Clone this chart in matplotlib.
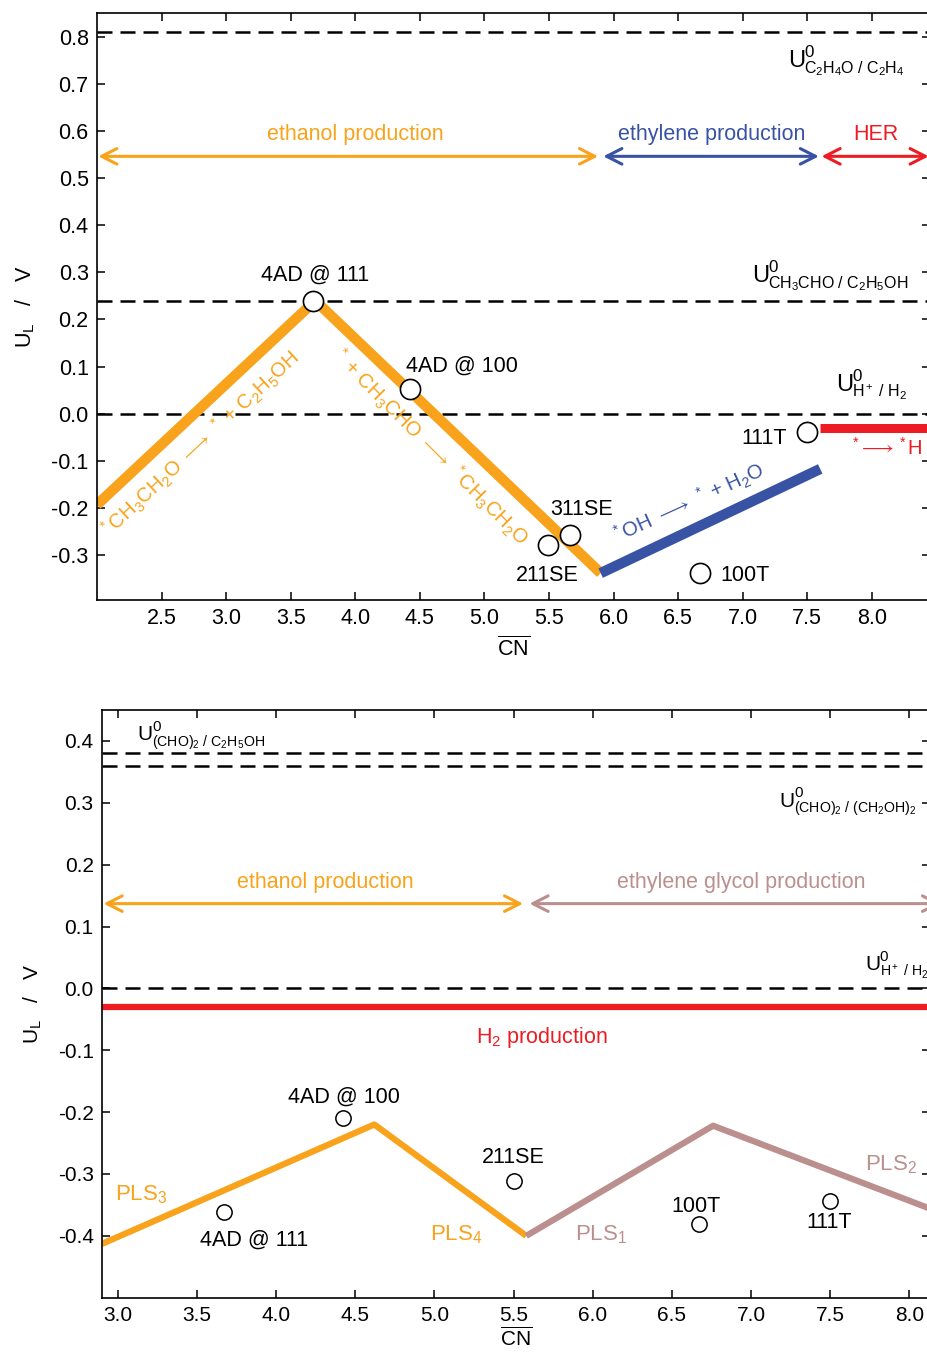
import numpy as np
import matplotlib
matplotlib.use("Agg")
import matplotlib.pyplot as plt

plt.rcParams['font.family'] = ['Liberation Sans', 'DejaVu Sans']
plt.rcParams['mathtext.fontset'] = 'custom'
plt.rcParams['mathtext.rm'] = 'Liberation Sans'
plt.rcParams['mathtext.it'] = 'Liberation Sans:italic'
plt.rcParams['mathtext.bf'] = 'Liberation Sans:bold'
plt.rcParams['axes.unicode_minus'] = False

orange = '#f8a31b'
blue = '#3953a4'
red = '#ed1c24'
mauve = '#bc8f8f'

# ---- top panel: limiting potential vs generalized coordination number
top_xlim = (2.0, 8.45)
top_ylim = (-0.395, 0.85)
top_yticks = [-0.3, -0.2, -0.1, 0.0, 0.1, 0.2, 0.3, 0.4, 0.5, 0.6, 0.7, 0.8]
top_xticks = [2.5, 3.0, 3.5, 4.0, 4.5, 5.0, 5.5, 6.0, 6.5, 7.0, 7.5, 8.0]
top_eq = [0.81, 0.24, 0.0]

ethanol_x = [2.0, 3.69, 5.9]
ethanol_y = [-0.193, 0.24, -0.338]
ethylene_x = [5.9, 7.6]
ethylene_y = [-0.338, -0.117]
her_x = [7.6, 8.45]
her_y = [-0.03, -0.03]

top_sites = ['4AD @ 111', '4AD @ 100', '211SE', '311SE', '100T', '111T']
top_cn = [3.67, 4.42, 5.495, 5.665, 6.67, 7.5]
top_ul = [0.24, 0.052, -0.278, -0.257, -0.337, -0.039]

# ---- bottom panel: glyoxal reduction
bot_xlim = (2.9, 8.13)
bot_ylim = (-0.5, 0.45)
bot_yticks = [-0.4, -0.3, -0.2, -0.1, 0.0, 0.1, 0.2, 0.3, 0.4]
bot_xticks = [3.0, 3.5, 4.0, 4.5, 5.0, 5.5, 6.0, 6.5, 7.0, 7.5, 8.0]
bot_eq = [0.38, 0.36, 0.0]
h2_level = -0.03

pls_eth_x = [2.9, 4.62, 5.58]
pls_eth_y = [-0.413, -0.22, -0.40]
pls_eg_x = [5.58, 6.76, 8.13]
pls_eg_y = [-0.40, -0.222, -0.356]

bot_sites = ['4AD @ 111', '4AD @ 100', '211SE', '100T', '111T']
bot_cn = [3.67, 4.42, 5.50, 6.67, 7.50]
bot_ul = [-0.362, -0.21, -0.312, -0.381, -0.343]

fig = plt.figure(figsize=(9.28, 13.52), dpi=100)
H = 1352.0
W = 928.0
ax1 = fig.add_axes([97 / W, (H - 600) / H, 833 / W, 587 / H])
ax2 = fig.add_axes([102 / W, (H - 1297.7) / H, 828 / W, 587.7 / H])

def style_axes(ax, xlim, ylim, xticks, yticks, fs, xpad):
    ax.set_xlim(*xlim)
    ax.set_ylim(*ylim)
    ax.set_xticks(xticks)
    ax.set_yticks(yticks)
    ax.set_xticklabels([f'{v:.1f}' for v in xticks])
    ax.set_yticklabels([f'{v:.1f}' for v in yticks])
    ax.tick_params(direction='in', top=True, right=True, length=6, width=1.1,
                   labelsize=fs, pad=6)
    for s in ax.spines.values():
        s.set_linewidth(1.2)
    ax.set_xlabel(r'$\overline{\mathrm{CN}}$', fontsize=fs, labelpad=xpad)
    ax.set_ylabel(r'U$_\mathrm{L}$   /   V', fontsize=fs, labelpad=10)

style_axes(ax1, top_xlim, top_ylim, top_xticks, top_yticks, 15.5, 5)
style_axes(ax2, bot_xlim, bot_ylim, bot_xticks, bot_yticks, 15, 1)

def u0_label(ax, x, y, sub, fs=17):
    # big U with a 0 on top and the redox couple underneath
    ax.text(x, y, 'U', fontsize=fs, ha='left', va='baseline')
    dx = fs * 0.70
    ax.annotate('0', xy=(x, y), xytext=(dx, fs * 0.45), textcoords='offset points',
                fontsize=fs * 0.72, ha='left', va='baseline')
    ax.annotate(sub, xy=(x, y), xytext=(dx, -fs * 0.27), textcoords='offset points',
                fontsize=fs * 0.68, ha='left', va='baseline')

dash = (0, (6, 3.2))
for y in top_eq:
    ax1.axhline(y, color='black', lw=1.8, ls=dash, zorder=1)
for y in bot_eq:
    ax2.axhline(y, color='black', lw=1.8, ls=dash, zorder=1)

# top panel lines and sites
ax1.plot(ethanol_x, ethanol_y, color=orange, lw=7.5, solid_capstyle='butt', zorder=2)
ax1.plot(ethylene_x, ethylene_y, color=blue, lw=7.5, solid_capstyle='butt', zorder=2)
ax1.plot(her_x, her_y, color=red, lw=6.5, solid_capstyle='butt', zorder=2)
ax1.plot(top_cn, top_ul, 'o', ms=14.5, mfc='white', mec='black', mew=1.2, zorder=3)

def double_arrow(ax, x0, x1, y, color):
    ax.annotate('', xy=(x1, y), xytext=(x0, y), annotation_clip=False,
                arrowprops=dict(arrowstyle='<->,head_length=0.55,head_width=0.28',
                                color=color, lw=2.2, shrinkA=0, shrinkB=0,
                                mutation_scale=20))

double_arrow(ax1, 2.01, 5.88, 0.546, orange)
double_arrow(ax1, 5.92, 7.59, 0.546, blue)
double_arrow(ax1, 7.61, 8.44, 0.546, red)
ax1.text(4.0, 0.58, 'ethanol production', color=orange, fontsize=15.5, ha='center', va='baseline')
ax1.text(6.76, 0.58, 'ethylene production', color=blue, fontsize=15.5, ha='center', va='baseline')
ax1.text(8.03, 0.58, 'HER', color=red, fontsize=15.5, ha='center', va='baseline')

u0_label(ax1, 7.35, 0.735, r'C$_2$H$_4$O / C$_2$H$_4$')
u0_label(ax1, 7.07, 0.279, r'CH$_3$CHO / C$_2$H$_5$OH')
u0_label(ax1, 7.72, 0.048, r'H$^+$ / H$_2$')

# site labels
lab_fs = 15.5
ax1.text(3.69, 0.283, '4AD @ 111', fontsize=lab_fs, ha='center', va='baseline')
ax1.text(4.39, 0.09, '4AD @ 100', fontsize=lab_fs, ha='left', va='baseline')
ax1.text(5.51, -0.215, '311SE', fontsize=lab_fs, ha='left', va='baseline')
ax1.text(5.49, -0.355, '211SE', fontsize=lab_fs, ha='center', va='baseline')
ax1.text(6.83, -0.355, '100T', fontsize=lab_fs, ha='left', va='baseline')
ax1.text(7.345, -0.065, '111T', fontsize=lab_fs, ha='right', va='baseline')

# elementary steps along each line
ax1.text(2.80, -0.066, r'$^*$CH$_3$CH$_2$O $\longrightarrow$ $^*$ + C$_2$H$_5$OH',
         color=orange, fontsize=14.5, rotation=43, ha='center', va='center',
         rotation_mode='anchor')
ax1.text(4.58, -0.071, r'$^*$ + CH$_3$CHO $\longrightarrow$ $^*$CH$_3$CH$_2$O',
         color=orange, fontsize=14.5, rotation=-45, ha='center', va='center',
         rotation_mode='anchor')
ax1.text(6.58, -0.19, r'$^*$OH $\longrightarrow$ $^*$ + H$_2$O',
         color=blue, fontsize=14.5, rotation=24.5, ha='center', va='center',
         rotation_mode='anchor')
ax1.text(7.83, -0.072, r'$^*\!\longrightarrow{}^*$H', color=red, fontsize=14.5,
         ha='left', va='center')

# bottom panel
ax2.axhline(h2_level, color=red, lw=4.5, zorder=2)
ax2.plot(pls_eth_x, pls_eth_y, color=orange, lw=4.5, solid_capstyle='butt', zorder=2)
ax2.plot(pls_eg_x, pls_eg_y, color=mauve, lw=4.5, solid_capstyle='butt', zorder=2)
ax2.plot(bot_cn, bot_ul, 'o', ms=11, mfc='white', mec='black', mew=1.1, zorder=3)

double_arrow(ax2, 2.91, 5.56, 0.137, orange)
double_arrow(ax2, 5.6, 8.2, 0.137, mauve)
ax2.text(4.31, 0.162, 'ethanol production', color=orange, fontsize=15.5, ha='center', va='baseline')
ax2.text(6.94, 0.162, 'ethylene glycol production', color=mauve, fontsize=15.5, ha='center', va='baseline')
ax2.text(5.68, -0.089, r'H$_2$ production', color=red, fontsize=15.5, ha='center', va='baseline')

u0_label(ax2, 3.124, 0.401, r'(CHO)$_2$ / C$_2$H$_5$OH', fs=15)
u0_label(ax2, 7.18, 0.294, r'(CHO)$_2$ / (CH$_2$OH)$_2$', fs=15)
u0_label(ax2, 7.72, 0.029, r'H$^+$ / H$_2$', fs=15)

ax2.text(3.86, -0.416, '4AD @ 111', fontsize=lab_fs, ha='center', va='baseline')
ax2.text(4.43, -0.185, '4AD @ 100', fontsize=lab_fs, ha='center', va='baseline')
ax2.text(5.50, -0.282, '211SE', fontsize=lab_fs, ha='center', va='baseline')
ax2.text(6.65, -0.362, '100T', fontsize=lab_fs, ha='center', va='baseline')
ax2.text(7.49, -0.388, '111T', fontsize=lab_fs, ha='center', va='baseline')

ax2.text(2.98, -0.343, r'PLS$_3$', color=orange, fontsize=16, ha='left', va='baseline')
ax2.text(4.97, -0.408, r'PLS$_4$', color=orange, fontsize=16, ha='left', va='baseline')
ax2.text(5.89, -0.408, r'PLS$_1$', color=mauve, fontsize=16, ha='left', va='baseline')
ax2.text(7.72, -0.295, r'PLS$_2$', color=mauve, fontsize=16, ha='left', va='baseline')

fig.savefig('out.png', dpi=100)
